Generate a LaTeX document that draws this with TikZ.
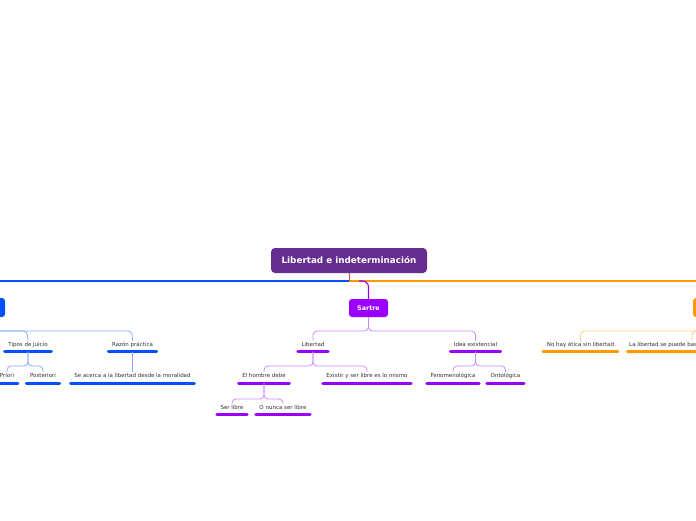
\documentclass[tikz,border=0pt]{standalone}
\usepackage{fontspec}
\setmainfont{DejaVu Sans}
\definecolor{rootc}{HTML}{662D91}
\definecolor{sartc}{HTML}{9900FF}
\definecolor{sartl}{HTML}{CC88FF}
\definecolor{bluec}{HTML}{0050FF}
\definecolor{bluel}{HTML}{88A8FF}
\definecolor{orc}{HTML}{FF9900}
\definecolor{orl}{HTML}{FFCC88}
\definecolor{txt}{HTML}{333333}
\definecolor{rootl}{HTML}{C8503C}
\newcommand\mmleaf[5]{%
  \node[leaf] (#1) at (#2,#3) {#4};
  \draw[ul,#5] ([xshift=1.5pt,yshift=-2.4pt]#1.south west) -- ([xshift=-1.5pt,yshift=-2.4pt]#1.south east);
  \coordinate (#1-u) at ([yshift=-2.4pt]#1.south);
}
\begin{document}
\begin{tikzpicture}[x=1pt,y=-1pt,
  leaf/.style={font=\fontsize{5.5}{6.6}\selectfont, text=txt, inner xsep=5pt, inner ysep=1.5pt, text height=4pt, text depth=1.2pt},
  ul/.style={line width=3pt, line cap=round},
  conn/.style={line width=0.8pt, rounded corners=4pt},
  topbox/.style={rounded corners=3pt, text=white, font=\bfseries\fontsize{6.4}{7}\selectfont, inner sep=0pt},
]
\useasboundingbox (0,0) rectangle (696,520);
\clip (0,0) rectangle (696,520);
\fill[white] (0,0) rectangle (696,520);

% root
\node[rounded corners=4pt, fill=rootc, text=white, font=\bfseries\fontsize{8.8}{10}\selectfont,
      minimum width=156pt, minimum height=25pt, inner sep=0pt] (root) at (349,260.5) {Libertad e indeterminación};
\coordinate (hub) at (349,281);
\coordinate (leftend) at (-10,281);
\coordinate (rightend) at (710,281);

% main boxes
\node[topbox, fill=sartc, minimum width=39pt, minimum height=18pt] (sartre) at (368.5,308) {Sartre};
\node[topbox, fill=bluec, minimum width=50pt, minimum height=19pt] (bluebox) at (-20,307.5) {};
\node[topbox, fill=orc, minimum width=50pt, minimum height=19pt] (orbox) at (718,307.5) {};

\draw[bluec, line width=1.1pt] (hub) -- (leftend);
\draw[orc, line width=1.1pt] (hub) -- (rightend);
\draw[rootl, line width=1pt] (root.south) -- (hub);
\draw[sartc, line width=1.1pt, rounded corners=6pt] ([xshift=10pt]hub) -| (sartre.north);

% blue branch
\mmleaf{tipos}{28}{345}{Tipos de juicio}{bluec}
\mmleaf{razon}{132.5}{345}{Razón práctica}{bluec}
\mmleaf{priori}{7}{376.5}{Priori}{bluec}
\mmleaf{poster}{43}{376.5}{Posteriori}{bluec}
\mmleaf{acerca}{132.5}{376.5}{Se acerca a la libertad desde la moralidad}{bluec}
\draw[conn, bluel] (bluebox.south) |- (27,331) -- (tipos.north);
\draw[conn, bluel] (bluebox.south) |- (132,331) -- (razon.north);
\draw[conn, bluel] (tipos-u) |- (7,366) -- (priori.north);
\draw[conn, bluel] (tipos-u) |- (43,366) -- (poster.north);
\draw[conn, bluel] (razon-u) -- (acerca.north);

% purple branch
\mmleaf{libertad}{313}{345}{Libertad}{sartc}
\mmleaf{idea}{475.5}{345}{Idea existencial}{sartc}
\mmleaf{hombre}{264}{376.5}{El hombre debe}{sartc}
\mmleaf{existir}{367}{376.5}{Existir y ser libre es lo mismo}{sartc}
\mmleaf{serlibre}{232}{408}{Ser libre}{sartc}
\mmleaf{nunca}{283}{408}{O nunca ser libre}{sartc}
\mmleaf{fenom}{453}{376.5}{Fenomenológica}{sartc}
\mmleaf{onto}{505.5}{376.5}{Ontológica}{sartc}
\draw[conn, sartl] (sartre.south) |- (313,331) -- (libertad.north);
\draw[conn, sartl] (sartre.south) |- (475.5,331) -- (idea.north);
\draw[conn, sartl] (libertad-u) |- (264,366) -- (hombre.north);
\draw[conn, sartl] (libertad-u) |- (367,366) -- (existir.north);
\draw[conn, sartl] (hombre-u) |- (232,399) -- (serlibre.north);
\draw[conn, sartl] (hombre-u) |- (283,399) -- (nunca.north);
\draw[conn, sartl] (idea-u) |- (453,366) -- (fenom.north);
\draw[conn, sartl] (idea-u) |- (505.5,366) -- (onto.north);

% orange branch
\mmleaf{etica}{580.5}{345}{No hay ética sin libertad}{orc}
\node[leaf, anchor=west, inner xsep=2pt] (basar) at (627,345) {La libertad se puede bas};
\coordinate (basar-l) at ([xshift=0.5pt,yshift=-2.4pt]basar.south west);
\coordinate (basar-r) at (720,351.5);
\draw[ul, orc] (basar-l) -- (basar-r);
\coordinate (basarx) at (692,0);
\draw[conn, orl] (orbox.south) |- (580.5,331) -- (etica.north);
\draw[conn, orl] (orbox.south) |- (692,331) -- (basar.north -| basarx);
\end{tikzpicture}
\end{document}
